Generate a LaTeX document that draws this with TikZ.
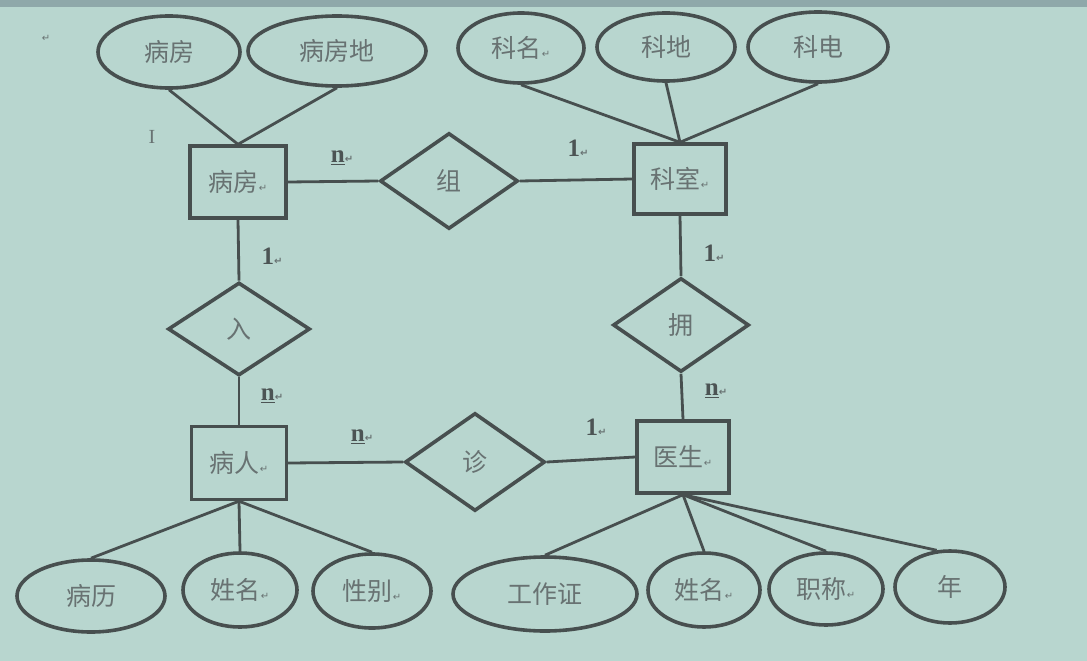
\documentclass[tikz,border=0pt]{standalone}
\usepackage{fontspec}
\usetikzlibrary{shapes.geometric}
\newfontfamily\cjk{Noto Sans CJK SC}
\newfontfamily\symf{DejaVu Sans}
\newfontfamily\labf{Liberation Serif}
\definecolor{bg}{HTML}{B8D6CF}
\definecolor{band}{HTML}{8FA8AA}
\definecolor{ln}{HTML}{474F4F}
\definecolor{txt}{HTML}{687272}
\definecolor{labc}{HTML}{4C5454}
\newcommand{\retmk}{{\symf\fontsize{10}{10}\selectfont\color{txt}↵}}
\tikzset{
  txtstyle/.style={text=txt, font=\cjk\fontsize{25}{27}\selectfont, inner sep=0pt},
  attr/.style={txtstyle, ellipse, draw=ln, line width=3.6pt},
  ent/.style={txtstyle, rectangle, draw=ln, line width=3.4pt},
  rel/.style={txtstyle, diamond, draw=ln, line width=3.6pt},
  conn/.style={draw=ln, line width=2.8pt},
  card/.style={text=labc, font=\labf\bfseries\fontsize{25}{25}\selectfont, inner sep=0pt}
}
\begin{document}
\begin{tikzpicture}[x=1pt,y=-1pt]
\useasboundingbox (0,0) rectangle (1087,661);
\fill[bg] (0,0) rectangle (1087,661);
\fill[band] (0,0) rectangle (1087,7);

% stray marks
\node[inner sep=0pt] (stray) at (46,38) {\retmk};
\node[inner sep=0pt, text=txt, font=\labf\fontsize{20}{20}\selectfont] (cursor) at (152,137) {I};

% entities
\node[ent, minimum width=96pt, minimum height=72pt] (bf) at (238,182) {病房\retmk};
\node[ent, minimum width=92pt, minimum height=70pt] (ks) at (680,179) {科室\retmk};
\node[ent, minimum width=95pt, minimum height=73pt] (br) at (239,463) {病人\retmk};
\node[ent, minimum width=92pt, minimum height=72pt] (ys) at (683,457) {医生\retmk};

% relationships
\node[rel, minimum width=138pt, minimum height=96pt] (zu) at (449,181) {组};
\node[rel, minimum width=142pt, minimum height=93pt] (ru) at (239,329) {入};
\node[rel, minimum width=136pt, minimum height=94pt] (yo) at (681,325) {拥};
\node[rel, minimum width=140pt, minimum height=98pt] (zh) at (475,462) {诊};

% attributes
\node[attr, minimum width=142pt, minimum height=72pt] (a1) at (169,52) {病房};
\node[attr, minimum width=178pt, minimum height=70pt] (a2) at (337,51) {病房地};
\node[attr, minimum width=126pt, minimum height=70pt] (a3) at (521,48) {科名\retmk};
\node[attr, minimum width=138pt, minimum height=68pt] (a4) at (666,47) {科地};
\node[attr, minimum width=140pt, minimum height=70pt] (a5) at (818,47) {科电};

\node[attr, minimum width=148pt, minimum height=72pt] (b1) at (91,596) {病历};
\node[attr, minimum width=114pt, minimum height=74pt] (b2) at (240,590) {姓名\retmk};
\node[attr, minimum width=118pt, minimum height=74pt] (b3) at (372,591) {性别\retmk};
\node[attr, minimum width=184pt, minimum height=74pt] (c1) at (545,594) {工作证};
\node[attr, minimum width=112pt, minimum height=74pt] (c2) at (704,590) {姓名\retmk};
\node[attr, minimum width=114pt, minimum height=72pt] (c3) at (826,589) {职称\retmk};
\node[attr, minimum width=110pt, minimum height=72pt] (c4) at (950,587) {年};

% connectors
\draw[conn] (a1.south) -- (bf.north);
\draw[conn] (a2.south) -- (bf.north);
\draw[conn] (a3.south) -- (ks.north);
\draw[conn] (a4.south) -- (ks.north);
\draw[conn] (a5.south) -- (ks.north);

\draw[conn] (bf.east) -- (zu.west);
\draw[conn] (zu.east) -- (ks.west);
\draw[conn] (bf.south) -- (ru.north);
\draw[conn] (ru.south) -- (br.north);
\draw[conn] (ks.south) -- (yo.north);
\draw[conn] (yo.south) -- (ys.north);
\draw[conn] (br.east) -- (zh.west);
\draw[conn] (zh.east) -- (ys.west);

\draw[conn] (br.south) -- (b1.north);
\draw[conn] (br.south) -- (b2.north);
\draw[conn] (br.south) -- (b3.north);
\draw[conn] (ys.south) -- (c1.north);
\draw[conn] (ys.south) -- (c2.north);
\draw[conn] (ys.south) -- (c3.north);
\draw[conn] (ys.south) -- (c4.110);

% cardinalities
\node[card] (l1) at (342,158) {\underline{n}\retmk};
\node[card] (l2) at (578,148) {1\retmk};
\node[card] (l3) at (272,256) {1\retmk};
\node[card] (l4) at (272,396) {\underline{n}\retmk};
\node[card] (l5) at (714,253) {1\retmk};
\node[card] (l6) at (716,391) {\underline{n}\retmk};
\node[card] (l7) at (362,437) {\underline{n}\retmk};
\node[card] (l8) at (596,427) {1\retmk};
\end{tikzpicture}
\end{document}
